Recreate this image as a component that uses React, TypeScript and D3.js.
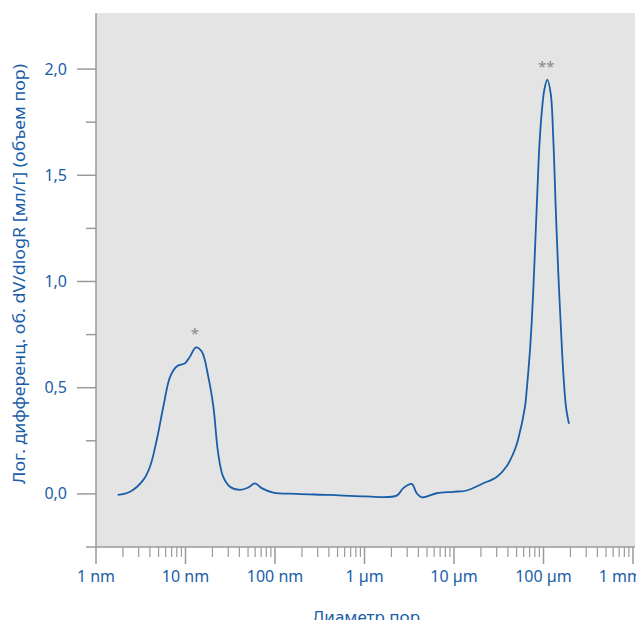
import React, { useEffect, useRef } from 'react';
import * as d3 from 'd3';

// pore diameter in nm, log differential intrusion (ml/g)
const diameters = [
  1.75, 2.4, 3.38, 4.01, 4.77, 5.65, 6.71, 7.97, 9.87, 11.2, 13.1, 15.2, 18.0, 20.5, 23.2, 26.4,
  31.4, 40.6, 50.3, 59.8, 71.0, 95.7, 175, 412, 1000, 2290, 2715, 3367, 3830, 4355, 6410, 9820,
  13870, 21240, 30000, 38800, 48060, 52300, 62100, 64900, 67600, 70700, 73800, 76900, 80900, 85300,
  89800, 95500, 102100, 110300, 120300, 128800, 136800, 146300, 155700, 166400, 178300, 192600,
];
const values = [
  -0.005, 0.01, 0.066, 0.128, 0.254, 0.41, 0.55, 0.6, 0.615, 0.646, 0.69, 0.67, 0.55, 0.41, 0.19, 0.08,
  0.034, 0.019, 0.03, 0.05, 0.027, 0.006, 0.0, -0.005, -0.012, -0.008, 0.027, 0.047, 0.003, -0.016, 0.003, 0.01,
  0.016, 0.05, 0.08, 0.13, 0.21, 0.26, 0.41, 0.489, 0.574, 0.678, 0.805, 0.96, 1.181, 1.417,
  1.634, 1.794, 1.902, 1.95, 1.885, 1.666, 1.353, 1.04, 0.8, 0.57, 0.41, 0.33,
];

const xTickValues = [1, 10, 100, 1000, 10000, 100000, 1000000];
const xTickLabels = ['1 nm', '10 nm', '100 nm', '1 µm', '10 µm', '100 µm', '1 mm'];
const yTickValues = [0, 0.5, 1.0, 1.5, 2.0];
const yMinorValues = [-0.25, 0.25, 0.75, 1.25, 1.75];

const markers = [
  { d: 13.1, v: 0.69, label: '*' },
  { d: 110300, v: 1.95, label: '**' },
];

const blue = '#1a5ea8';
const axisGrey = '#9a9a9a';
const font = '"Noto Sans", sans-serif';

const Chart = ({ width, height }) => {
  const svgRef = useRef(null);

  useEffect(() => {
    const svg = d3.select(svgRef.current);
    svg.selectAll('*').remove();

    const left = 96, right = 633, top = 13, bottom = 547;

    const x = d3.scaleLog().domain([1, 1000000]).range([left, right]);
    const y = d3.scaleLinear().domain([-0.25, 2.264]).range([bottom, top]);

    // plot background
    svg.append('rect')
      .attr('x', left).attr('y', top)
      .attr('width', right + 2 - left).attr('height', bottom - top)
      .attr('fill', '#e4e4e4');

    // x axis line
    svg.append('line')
      .attr('x1', left).attr('x2', right + 2)
      .attr('y1', bottom).attr('y2', bottom)
      .attr('stroke', axisGrey).attr('stroke-width', 1.5);
    // y axis line
    svg.append('line')
      .attr('x1', left).attr('x2', left)
      .attr('y1', top).attr('y2', bottom)
      .attr('stroke', axisGrey).attr('stroke-width', 1.5);

    // x minor ticks 2..9 per decade
    const minor = [];
    xTickValues.slice(0, -1).forEach(dec => {
      for (let k = 2; k <= 9; k++) minor.push(dec * k);
    });
    svg.append('g').selectAll('line')
      .data(minor)
      .join('line')
      .attr('x1', d => x(d)).attr('x2', d => x(d))
      .attr('y1', bottom).attr('y2', bottom + 10)
      .attr('stroke', axisGrey).attr('stroke-width', 1.2);

    svg.append('g').selectAll('line')
      .data(xTickValues)
      .join('line')
      .attr('x1', d => x(d)).attr('x2', d => x(d))
      .attr('y1', bottom).attr('y2', bottom + 17)
      .attr('stroke', axisGrey).attr('stroke-width', 1.5);

    const last = xTickValues.length - 1;
    svg.append('g').selectAll('text')
      .data(xTickValues)
      .join('text')
      .attr('x', (d, i) => (i === last ? 642 : x(d)))
      .attr('y', 582)
      .attr('text-anchor', (d, i) => (i === last ? 'end' : 'middle'))
      .attr('fill', blue)
      .style('font-family', font)
      .style('font-size', '16px')
      .text((d, i) => xTickLabels[i]);

    // y ticks
    svg.append('g').selectAll('line')
      .data(yTickValues)
      .join('line')
      .attr('x1', left - 19).attr('x2', left)
      .attr('y1', d => y(d)).attr('y2', d => y(d))
      .attr('stroke', axisGrey).attr('stroke-width', 1.5);

    svg.append('g').selectAll('line')
      .data(yMinorValues)
      .join('line')
      .attr('x1', left - 10).attr('x2', left)
      .attr('y1', d => y(d)).attr('y2', d => y(d))
      .attr('stroke', axisGrey).attr('stroke-width', 1.5);

    svg.append('g').selectAll('text')
      .data(yTickValues)
      .join('text')
      .attr('x', 67)
      .attr('y', d => y(d))
      .attr('dy', '0.35em')
      .attr('text-anchor', 'end')
      .attr('fill', blue)
      .style('font-family', font)
      .style('font-size', '16px')
      .text(d => d.toFixed(1).replace('.', ','));

    // axis titles
    svg.append('text')
      .attr('transform', 'translate(25, 274) rotate(-90)')
      .attr('text-anchor', 'middle')
      .attr('fill', blue)
      .attr('textLength', 420)
      .attr('lengthAdjust', 'spacingAndGlyphs')
      .style('font-family', font)
      .style('font-size', '16px')
      .text('Лог. дифференц. об. dV/dlogR [мл/г] (объем пор)');

    svg.append('text')
      .attr('x', 366)
      .attr('y', 623)
      .attr('text-anchor', 'middle')
      .attr('fill', blue)
      .style('font-family', font)
      .style('font-size', '17px')
      .text('Диаметр пор');

    // curve
    const points = diameters.map((d, i) => [d, values[i]]);
    const line = d3.line()
      .x(p => x(p[0]))
      .y(p => y(p[1]))
      .curve(d3.curveCatmullRom.alpha(0.5));

    svg.append('path')
      .datum(points)
      .attr('d', line)
      .attr('fill', 'none')
      .attr('stroke', blue)
      .attr('stroke-width', 1.8);

    // peak markers
    svg.append('g').selectAll('text')
      .data(markers)
      .join('text')
      .attr('x', d => x(d.d) - 1)
      .attr('y', d => y(d.v) - 8)
      .attr('text-anchor', 'middle')
      .attr('fill', '#8a8a8a')
      .style('font-family', font)
      .style('font-size', '15px')
      .text(d => d.label);
  }, [width, height]);

  return <svg ref={svgRef} width={width} height={height} style={{ display: 'block' }} />;
};

export default function App() {
  return (
    <div style={{ margin: -8 }}>
      <Chart width={644} height={628} />
    </div>
  );
}
